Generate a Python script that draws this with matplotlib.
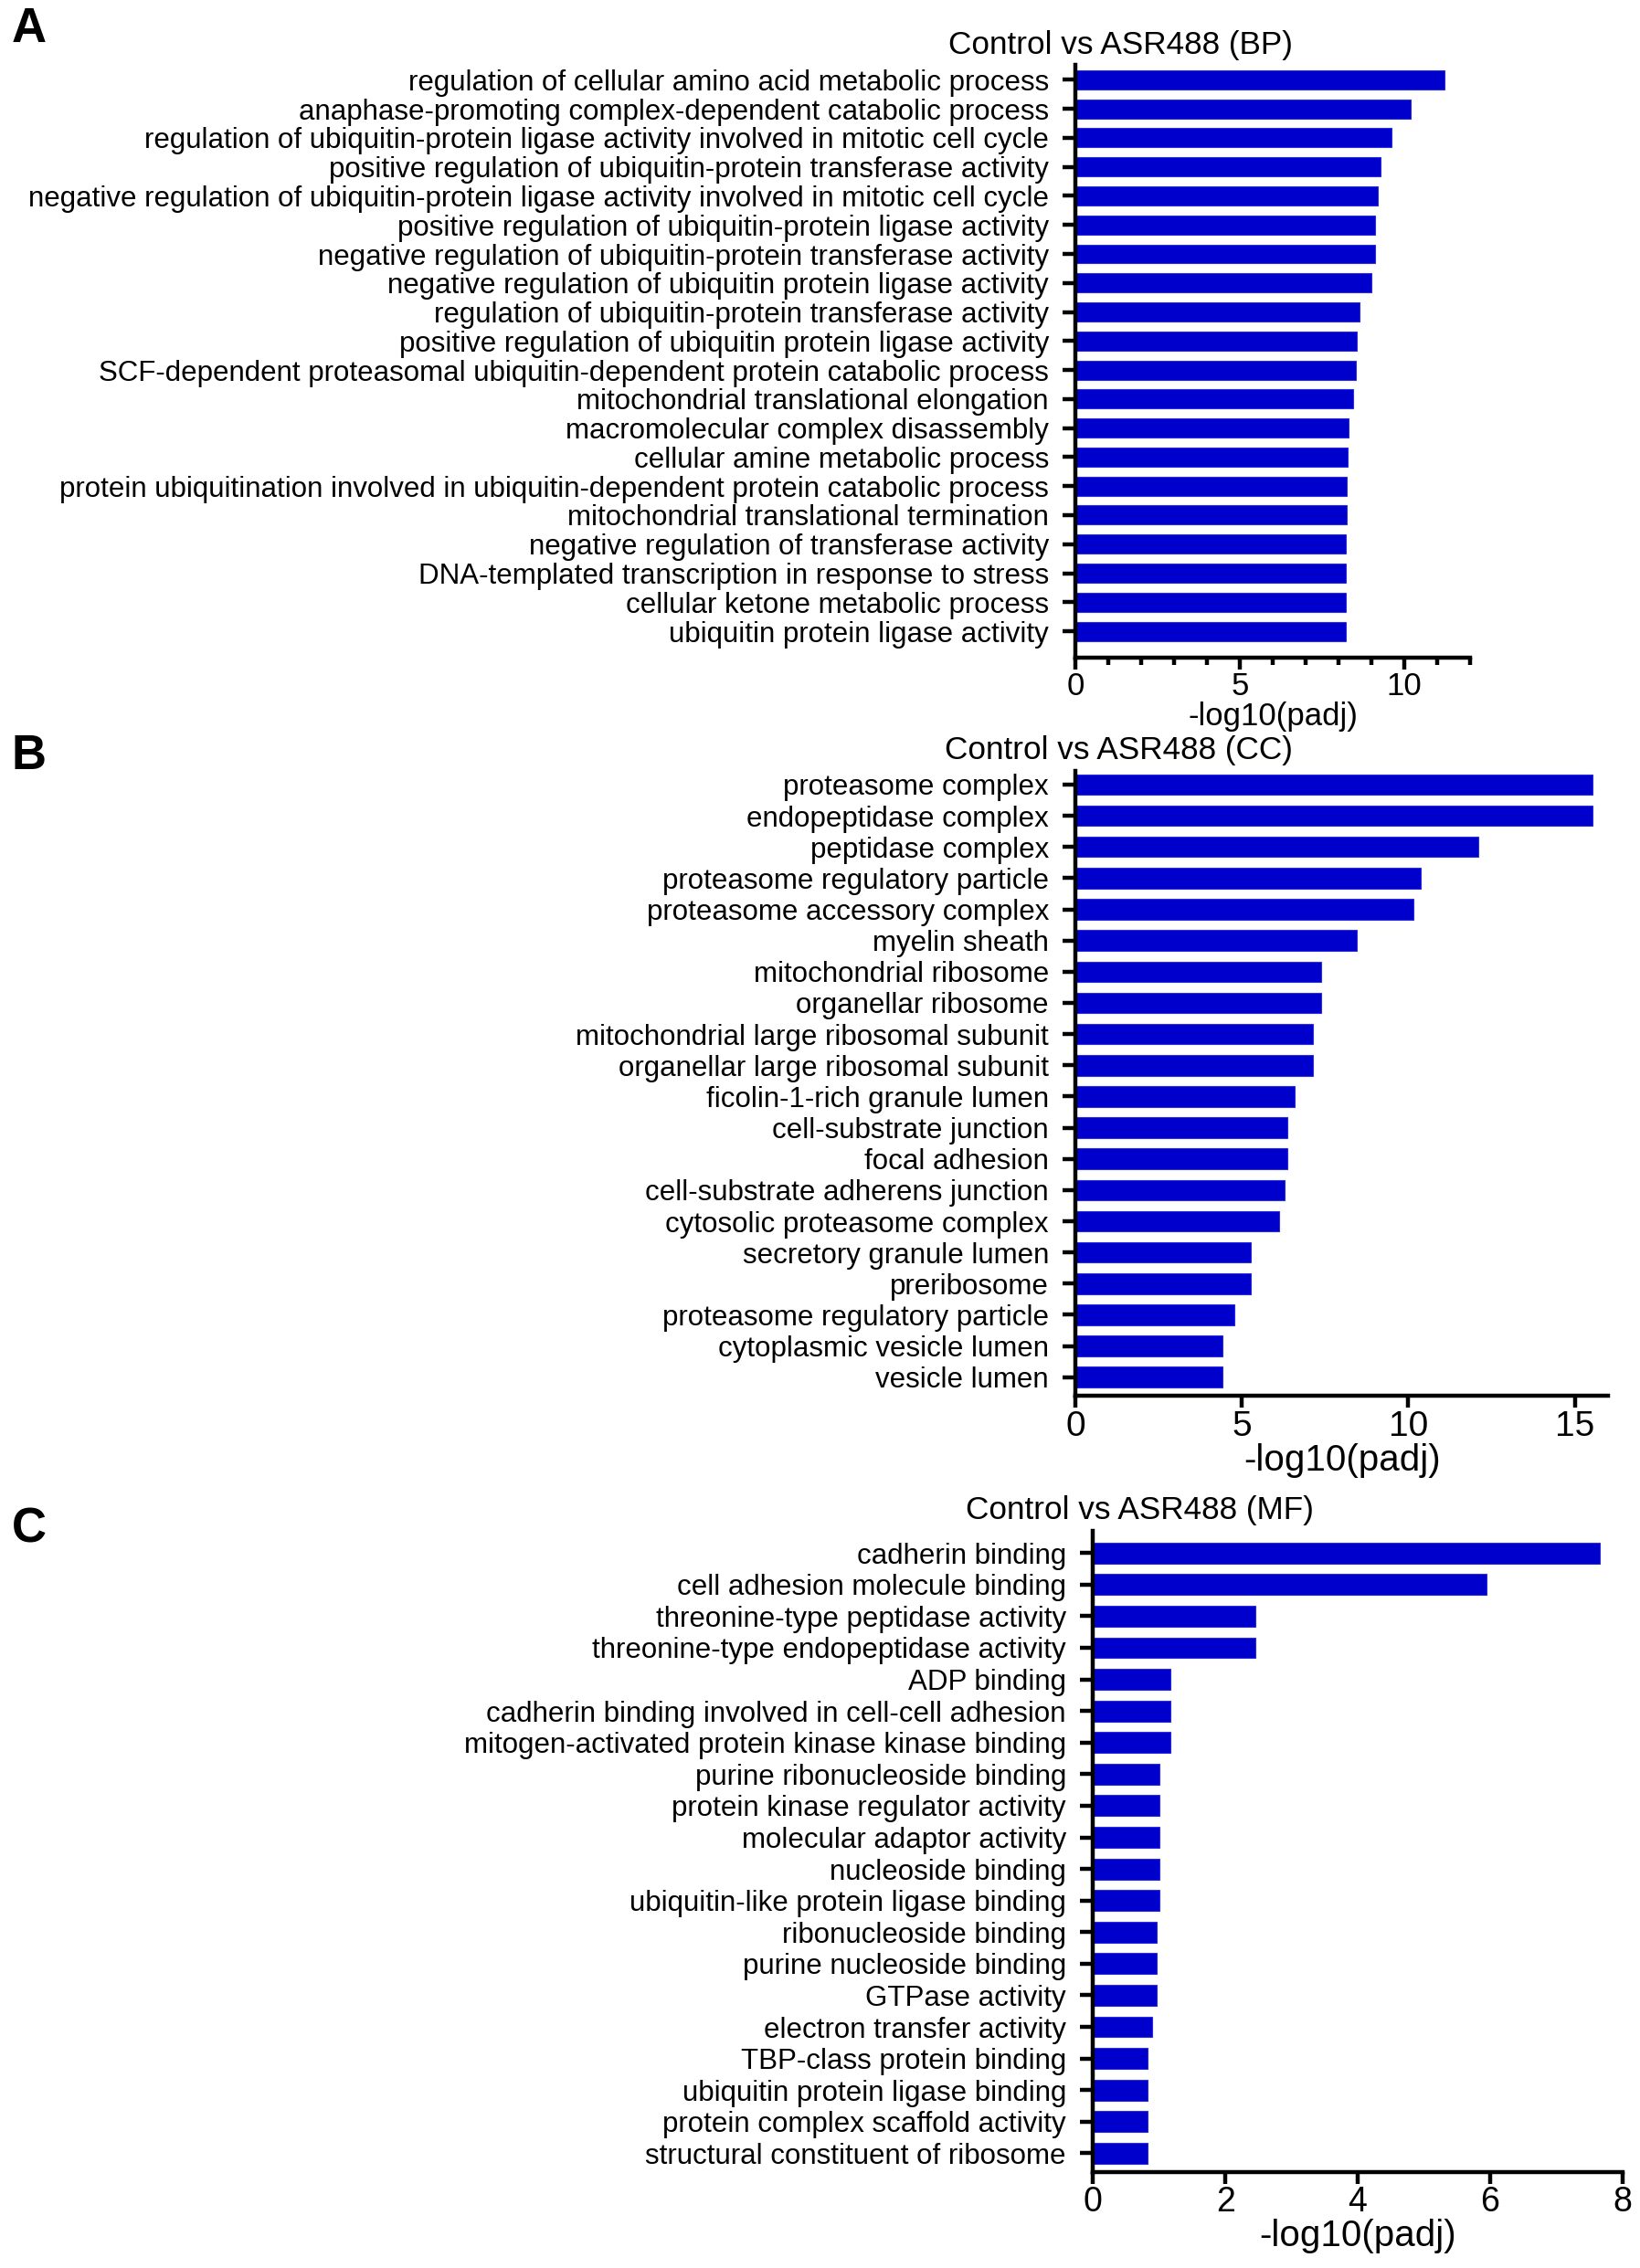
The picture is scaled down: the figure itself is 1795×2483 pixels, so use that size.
import matplotlib
matplotlib.use('Agg')
import matplotlib.pyplot as plt
from matplotlib.ticker import MultipleLocator

plt.rcParams['font.family'] = ['Liberation Sans', 'DejaVu Sans']

# Biological process terms and -log10(padj)
bp_terms = [
    'regulation of cellular amino acid metabolic process',
    'anaphase-promoting complex-dependent catabolic process',
    'regulation of ubiquitin-protein ligase activity involved in mitotic cell cycle',
    'positive regulation of ubiquitin-protein transferase activity',
    'negative regulation of ubiquitin-protein ligase activity involved in mitotic cell cycle',
    'positive regulation of ubiquitin-protein ligase activity',
    'negative regulation of ubiquitin-protein transferase activity',
    'negative regulation of ubiquitin protein ligase activity',
    'regulation of ubiquitin-protein transferase activity',
    'positive regulation of ubiquitin protein ligase activity',
    'SCF-dependent proteasomal ubiquitin-dependent protein catabolic process',
    'mitochondrial translational elongation',
    'macromolecular complex disassembly',
    'cellular amine metabolic process',
    'protein ubiquitination involved in ubiquitin-dependent protein catabolic process',
    'mitochondrial translational termination',
    'negative regulation of transferase activity',
    'DNA-templated transcription in response to stress',
    'cellular ketone metabolic process',
    'ubiquitin protein ligase activity',
]
bp_values = [11.22, 10.20, 9.60, 9.27, 9.19, 9.12, 9.12, 8.99, 8.64, 8.54,
             8.52, 8.43, 8.30, 8.27, 8.26, 8.25, 8.23, 8.23, 8.23, 8.23]

# Cellular component terms
cc_terms = [
    'proteasome complex',
    'endopeptidase complex',
    'peptidase complex',
    'proteasome regulatory particle',
    'proteasome accessory complex',
    'myelin sheath',
    'mitochondrial ribosome',
    'organellar ribosome',
    'mitochondrial large ribosomal subunit',
    'organellar large ribosomal subunit',
    'ficolin-1-rich granule lumen',
    'cell-substrate junction',
    'focal adhesion',
    'cell-substrate adherens junction',
    'cytosolic proteasome complex',
    'secretory granule lumen',
    'preribosome',
    'proteasome regulatory particle',
    'cytoplasmic vesicle lumen',
    'vesicle lumen',
]
cc_values = [15.54, 15.54, 12.09, 10.37, 10.15, 8.44, 7.38, 7.38, 7.13, 7.13,
             6.59, 6.37, 6.37, 6.27, 6.12, 5.28, 5.28, 4.77, 4.43, 4.42]

# Molecular function terms
mf_terms = [
    'cadherin binding',
    'cell adhesion molecule binding',
    'threonine-type peptidase activity',
    'threonine-type endopeptidase activity',
    'ADP binding',
    'cadherin binding involved in cell-cell adhesion',
    'mitogen-activated protein kinase kinase binding',
    'purine ribonucleoside binding',
    'protein kinase regulator activity',
    'molecular adaptor activity',
    'nucleoside binding',
    'ubiquitin-like protein ligase binding',
    'ribonucleoside binding',
    'purine nucleoside binding',
    'GTPase activity',
    'electron transfer activity',
    'TBP-class protein binding',
    'ubiquitin protein ligase binding',
    'protein complex scaffold activity',
    'structural constituent of ribosome',
]
mf_values = [7.65, 5.94, 2.45, 2.45, 1.17, 1.17, 1.17, 1.00, 1.00, 1.00,
             1.00, 1.00, 0.96, 0.96, 0.96, 0.90, 0.83, 0.83, 0.83, 0.83]

W, H = 1130.0, 1563.0  # layout measured on the reference preview


def rect(left, right, top, bottom):
    return [left / W, 1 - bottom / H, (right - left) / W, (bottom - top) / H]


def draw_panel(fig, box, terms, values, title, title_x, xmax, major, minor, ylim,
               tick_size, label_size):
    ax = fig.add_axes(box)
    pos = list(range(len(terms)))
    ax.barh(pos, values, height=0.66, color='#0000CC', edgecolor='#2A2AE0', linewidth=0.8)
    ax.set_yticks(pos)
    ax.set_yticklabels(terms, fontsize=22.5)
    ax.set_ylim(*ylim)
    ax.set_xlim(0, xmax)
    ax.xaxis.set_major_locator(MultipleLocator(major))
    if minor:
        ax.xaxis.set_minor_locator(MultipleLocator(minor))
    for side in ['top', 'right']:
        ax.spines[side].set_visible(False)
    for side in ['left', 'bottom']:
        ax.spines[side].set_linewidth(3.2)
    ax.tick_params(axis='y', length=10, width=3.2, pad=11)
    ax.tick_params(axis='x', which='major', length=9, width=3.2, labelsize=tick_size, pad=2)
    ax.tick_params(axis='x', which='minor', length=6, width=3.2)
    ax.set_xlabel('-log10(padj)', fontsize=label_size, labelpad=0)
    ax.annotate(title, xy=(title_x, 1.0), xycoords='axes fraction',
                xytext=(0, 4), textcoords='offset points',
                ha='center', va='bottom', fontsize=25.3)
    return ax


fig = plt.figure(figsize=(17.95, 24.83), dpi=100)

draw_panel(fig, rect(741, 1013, 45, 453), bp_terms, bp_values,
           'Control vs ASR488 (BP)', 0.114, 12, 5, 1, (19.9, -0.5), 25, 25)
draw_panel(fig, rect(741, 1108, 531, 962), cc_terms, cc_values,
           'Control vs ASR488 (CC)', 0.082, 16, 5, None, (19.6, -0.45), 28, 29)
draw_panel(fig, rect(753, 1118, 1055, 1497), mf_terms, mf_values,
           'Control vs ASR488 (MF)', 0.088, 8, 2, None, (19.6, -0.7), 27, 29)

fig.text(8 / W, 1 - 20 / H, 'A', fontsize=38, fontweight='bold', va='center')
fig.text(8 / W, 1 - 521 / H, 'B', fontsize=38, fontweight='bold', va='center')
fig.text(8 / W, 1 - 1054 / H, 'C', fontsize=38, fontweight='bold', va='center')

fig.savefig('out.png', dpi=100)
